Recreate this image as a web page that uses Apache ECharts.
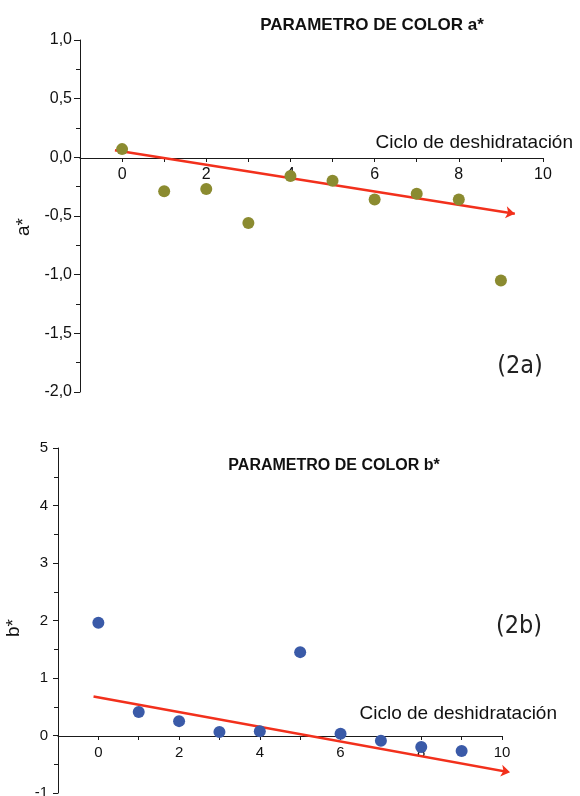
<!DOCTYPE html>
<html>
<head>
<meta charset="utf-8">
<script src="https://cdn.jsdelivr.net/npm/echarts@6/dist/echarts.min.js"></script>
<style>
  html, body { margin: 0; padding: 0; background: #fff; }
  #chart { width: 580px; height: 796px; }
</style>
</head>
<body>
<div id="chart"></div>
<script>
// ciclo de deshidratación
const cycles = [0, 1, 2, 3, 4, 5, 6, 7, 8, 9];
// parámetro a*
const aValues = [0.07, -0.29, -0.27, -0.56, -0.16, -0.2, -0.36, -0.31, -0.36, -1.05];
// parámetro b*
const bValues = [1.96, 0.41, 0.25, 0.06, 0.075, 1.45, 0.03, -0.09, -0.2, -0.27];
// tendencias (inicio y fin de la flecha)
const aTrend = [[-0.17, 0.06], [9.33, -0.48]];
const bTrend = [[-0.12, 0.68], [10.2, -0.64]];

const chart = echarts.init(document.getElementById("chart"));

const font = "'Liberation Sans', Arial, sans-serif";
const narrow = "'DejaVu Sans Condensed', 'Liberation Sans Narrow', sans-serif";
const axisColor = "#1a1a1a";
const trendColor = "#f2301c";

// axis sits on the zero line, moved up from the grid bottom with offset
function xAxisFor(gridIndex, offset, nameGap, namePad, labelSize) {
  return {
    type: "value",
    gridIndex: gridIndex,
    min: -1,
    max: 10,
    interval: 1,
    offset: offset,
    name: "Ciclo de deshidratación",
    nameLocation: "end",
    nameGap: nameGap,
    nameTextStyle: {
      fontFamily: font,
      fontSize: 19,
      color: "#111",
      align: "right",
      verticalAlign: "bottom",
      padding: [0, 0, namePad, 0],
    },
    axisLine: { onZero: false, lineStyle: { color: axisColor, width: 1 } },
    axisTick: { show: true, length: 4, lineStyle: { color: axisColor } },
    splitLine: { show: false },
    axisLabel: {
      fontFamily: font,
      fontSize: labelSize,
      color: "#111",
      margin: 9,
      formatter: function (v) {
        return v >= 0 && v % 2 === 0 ? String(v) : "";
      },
    },
  };
}

function trendSeries(idx, pts) {
  return {
    type: "line",
    xAxisIndex: idx,
    yAxisIndex: idx,
    clip: false,
    silent: true,
    z: 1,
    lineStyle: { color: trendColor, width: 2.5 },
    itemStyle: { color: trendColor },
    symbolSize: 9,
    data: [
      { value: pts[0], symbol: "none" },
      { value: pts[1], symbol: "arrow", symbolRotate: -90 },
    ],
  };
}

const options = {
  animation: false,
  backgroundColor: "#fff",
  title: [
    {
      text: "PARAMETRO DE COLOR a*",
      left: 367,
      top: 12,
      textAlign: "center",
      textStyle: { fontFamily: font, fontSize: 17, fontWeight: "bold", color: "#111" },
    },
    {
      text: "(2a)",
      left: 515,
      top: 349,
      textAlign: "center",
      textStyle: { fontFamily: narrow, fontSize: 25, fontWeight: "normal", color: "#222" },
    },
    {
      text: "PARAMETRO DE COLOR b*",
      left: 329,
      top: 453,
      textAlign: "center",
      textStyle: { fontFamily: font, fontSize: 16, fontWeight: "bold", color: "#111" },
    },
    {
      text: "(2b)",
      left: 514,
      top: 609,
      textAlign: "center",
      textStyle: { fontFamily: narrow, fontSize: 25, fontWeight: "normal", color: "#222" },
    },
  ],
  grid: [
    { left: 80, right: 37, top: 40, bottom: 404, outerBoundsMode: "none" },
    { left: 58, right: 78, top: 448, bottom: 3, outerBoundsMode: "none" },
  ],
  xAxis: [xAxisFor(0, -234, 30, 6, 16), xAxisFor(1, -57, 55, 13, 15)],
  yAxis: [
    {
      type: "value",
      gridIndex: 0,
      min: -2,
      max: 1,
      interval: 0.5,
      name: "a*",
      nameLocation: "middle",
      nameRotate: 90,
      nameGap: 45,
      nameTextStyle: { fontFamily: font, fontSize: 19, color: "#111", padding: [0, 22, 0, 0] },
      axisLine: { onZero: false, lineStyle: { color: axisColor, width: 1 } },
      axisTick: { show: true, length: 6, lineStyle: { color: axisColor } },
      minorTick: { show: true, splitNumber: 2, length: 4, lineStyle: { color: axisColor } },
      splitLine: { show: false },
      axisLabel: {
        fontFamily: font,
        fontSize: 16,
        color: "#111",
        margin: 8,
        formatter: function (v) {
          return v.toFixed(1).replace(".", ",");
        },
      },
    },
    {
      type: "value",
      gridIndex: 1,
      min: -1,
      max: 5,
      interval: 1,
      name: "b*",
      nameLocation: "middle",
      nameRotate: 90,
      nameGap: 27,
      nameTextStyle: { fontFamily: font, fontSize: 19, color: "#111", padding: [0, 15, 0, 0] },
      axisLine: { onZero: false, lineStyle: { color: axisColor, width: 1 } },
      axisTick: { show: true, length: 5, lineStyle: { color: axisColor } },
      minorTick: { show: true, splitNumber: 2, length: 4, lineStyle: { color: axisColor } },
      splitLine: { show: false },
      axisLabel: { fontFamily: font, fontSize: 15, color: "#111", margin: 10 },
    },
  ],
  series: [
    trendSeries(0, aTrend),
    trendSeries(1, bTrend),
    {
      name: "a*",
      type: "scatter",
      xAxisIndex: 0,
      yAxisIndex: 0,
      clip: false,
      z: 3,
      symbolSize: 12,
      itemStyle: { color: "#8b8b30", opacity: 1 },
      data: cycles.map((c, i) => [c, aValues[i]]),
    },
    {
      name: "b*",
      type: "scatter",
      xAxisIndex: 1,
      yAxisIndex: 1,
      clip: false,
      z: 3,
      symbolSize: 12,
      itemStyle: { color: "#3a5aa8", opacity: 1 },
      data: cycles.map((c, i) => [c, bValues[i]]),
    },
  ],
};

chart.setOption(options);

// orient the arrow heads along each trend line (screen angle)
function arrowAngle(idx, pts) {
  const p0 = chart.convertToPixel({ gridIndex: idx }, pts[0]);
  const p1 = chart.convertToPixel({ gridIndex: idx }, pts[1]);
  const deg = (Math.atan2(p0[1] - p1[1], p1[0] - p0[0]) * 180) / Math.PI;
  return deg - 90;
}

chart.setOption({
  series: [
    { data: [{ value: aTrend[0], symbol: "none" }, { value: aTrend[1], symbol: "arrow", symbolRotate: arrowAngle(0, aTrend) }] },
    { data: [{ value: bTrend[0], symbol: "none" }, { value: bTrend[1], symbol: "arrow", symbolRotate: arrowAngle(1, bTrend) }] },
  ],
});
</script>
</body>
</html>
